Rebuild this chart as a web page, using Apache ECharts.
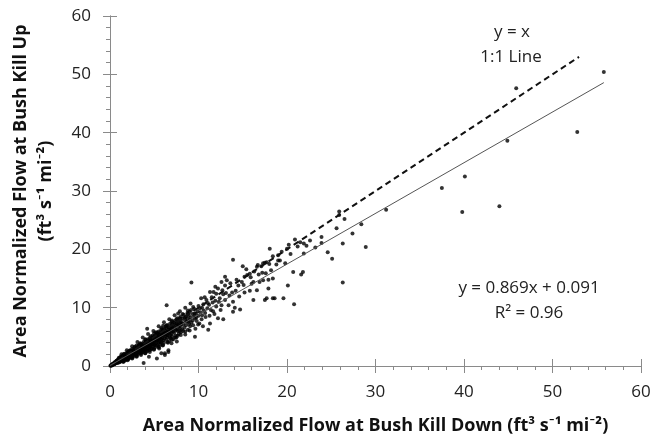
<!DOCTYPE html>
<html>
<head>
<meta charset="utf-8">
<script src="https://cdn.jsdelivr.net/npm/echarts@6/dist/echarts.min.js"></script>
<style>
html,body{margin:0;padding:0;background:#fff}
#chart{width:654px;height:440px}
</style>
</head>
<body>
<div id="chart"></div>
<script>
// flow pairs [Bush Kill Down, Bush Kill Up], ft3 s-1 mi-2
const lowFlows = [
  [0.05,0.04],[0.1,0.12],[0.15,0.1],[0.2,0.22],[0.25,0.18],[0.3,0.35],[0.3,0.2],[0.35,0.28],[0.4,0.45],[0.4,0.3],
  [0.45,0.38],[0.5,0.6],[0.5,0.4],[0.55,0.5],[0.6,0.7],[0.6,0.45],[0.65,0.55],[0.7,0.8],[0.7,0.5],[0.75,0.65],
  [0.8,0.95],[0.8,0.6],[0.85,0.75],[0.9,1.1],[0.9,0.7],[0.95,0.85],[1.0,1.2],[1.0,0.8],[1.0,0.6],
  [1.1,1.0],[1.1,1.4],[1.15,0.75],[1.2,1.1],[1.2,1.6],[1.25,0.9],[1.3,1.2],[1.3,1.5],[1.35,0.85],[1.4,1.3],
  [1.4,1.8],[1.45,1.0],[1.5,1.35],[1.5,1.7],[1.55,1.1],[1.6,1.45],[1.6,2.0],[1.65,1.2],[1.7,1.55],[1.7,0.95],
  [1.75,1.8],[1.8,1.6],[1.8,1.3],[1.85,2.2],[1.9,1.7],[1.9,1.4],[1.95,1.1],[2.0,1.8],[2.0,2.4],[2.0,1.5],
  [2.1,1.9],[2.1,1.3],[2.15,2.5],[2.2,2.0],[2.2,1.6],[2.25,2.2],[2.3,1.8],[2.3,2.7],[2.35,1.4],[2.4,2.1],
  [2.4,2.4],[2.45,1.9],[2.5,2.3],[2.5,2.9],[2.5,1.6],[2.55,2.1],[2.6,2.5],[2.6,1.9],[2.65,2.8],[2.7,2.3],
  [2.7,1.7],[2.75,2.6],[2.8,2.2],[2.8,3.2],[2.85,2.0],[2.9,2.6],[2.9,2.9],[2.95,1.8],[3.0,2.5],[3.0,3.0],
  [3.0,2.2],[3.0,3.5],
  [3.1,2.7],[3.1,2.0],[3.15,3.3],[3.2,2.8],[3.2,2.4],[3.25,3.0],[3.3,2.6],[3.3,3.6],[3.35,2.2],[3.4,2.9],
  [3.4,3.2],[3.45,2.5],[3.5,3.0],[3.5,3.8],[3.5,2.1],[3.55,2.8],[3.6,3.3],[3.6,2.6],[3.65,3.6],[3.7,3.1],
  [3.7,2.4],[3.75,3.4],[3.8,2.9],[3.8,4.1],[3.85,2.6],[3.9,3.4],[3.9,3.7],[3.95,2.2],[4.0,3.3],[4.0,3.9],
  [4.0,2.8],[4.0,4.5]
];
const extraLowFlows = [
  [0.2,0.1],[0.35,0.4],[0.5,0.3],[0.6,0.55],[0.75,0.9],[0.85,0.5],[0.95,1.0],[1.05,0.7],[1.15,1.25],[1.25,1.45],
  [1.35,1.1],[1.45,1.6],[1.55,0.8],[1.65,1.7],[1.75,1.3],[1.85,1.5],[1.95,2.0],[2.05,1.2],[2.15,1.75],[2.25,2.5],
  [2.35,2.0],[2.45,2.6],[2.55,1.4],[2.65,2.2],[2.75,2.0],[2.85,2.7],[2.95,2.4],[3.05,1.7],[3.15,2.6],[3.25,3.5],
  [3.35,3.0],[3.45,3.7],[3.55,2.3],[3.65,3.0],[3.75,2.7],[3.85,3.8],[3.95,3.1],[4.05,4.1],[4.15,3.3],[4.25,2.6],
  [4.35,4.4],[4.45,3.6],[4.55,4.1],[4.65,2.9],[4.75,3.8],[4.85,4.9],[4.95,4.0],[5.05,4.7],[5.15,3.6],[5.25,4.4],
  [5.35,5.5],[5.45,4.6],[5.55,3.0],[5.65,4.8],[5.75,4.0],[5.85,5.6],[5.95,4.8],[6.05,5.8],[6.15,4.7],[6.25,5.4],
  [6.35,6.5],[6.45,5.3],[6.55,4.0],[6.65,5.9],[6.75,4.9],[6.85,6.4],[6.95,5.5],[7.05,6.7],[7.15,5.9],[7.25,7.4],
  [7.35,4.9],[7.45,6.2],[7.55,7.3],[7.65,5.2],[7.75,6.7],[7.85,6.0],[7.95,8.0],[8.05,7.2],[8.25,6.0],[8.45,8.3],
  [8.65,7.6],[8.8,8.9],[8.95,7.2],[9.15,9.6],[9.35,7.8],[9.55,9.0],[9.75,8.3],[9.95,7.1],[10.15,9.9],[10.35,8.0],
  [10.55,10.6],[10.75,9.1],[11.05,10.8],[11.25,8.6],[11.5,11.8],[11.65,9.4]
];
const edgeFlows = [
  [1.0,1.4],[1.3,2.0],[1.6,2.1],[1.9,2.7],[2.2,2.6],[2.5,3.4],[2.8,3.3],[3.1,4.1],[3.4,3.9],[3.7,4.9],
  [4.0,4.6],[4.2,6.4],[4.3,5.5],[4.6,5.1],[4.9,6.0],[5.2,5.8],[5.5,6.8],[5.8,6.5],[6.1,7.5],[6.4,7.0],
  [6.7,8.0],[7.0,7.6],[7.3,8.7],[7.6,8.2],[7.9,9.4],[8.2,8.9],[8.5,10.0],[8.8,9.5],[9.1,10.7],[9.4,10.1],
  [1.5,0.7],[2.0,1.0],[2.5,1.3],[3.0,1.6],[3.5,1.9],[4.0,2.2],[4.5,2.4],[5.0,2.9],[5.5,3.2],[6.0,3.6],
  [6.5,4.1],[7.0,4.5],[7.5,4.9],[8.0,5.3],[8.5,5.9],[9.0,6.1],[3.8,0.5],[4.4,1.6],[5.8,2.2],[6.6,2.4]
];
const midFlows = [
  [4.1,3.6],[4.1,2.5],[4.15,4.2],[4.2,3.7],[4.2,3.0],[4.25,4.0],[4.3,3.4],[4.3,4.6],[4.35,2.9],[4.4,3.8],
  [4.4,4.2],[4.45,3.2],[4.5,3.9],[4.5,4.8],[4.5,2.7],[4.55,3.6],[4.6,4.3],[4.6,3.3],[4.65,4.6],[4.7,4.0],
  [4.7,3.0],[4.75,4.4],[4.8,3.7],[4.8,5.2],[4.85,3.4],[4.9,4.3],[4.9,4.8],[4.95,2.8],[5.0,4.2],[5.0,5.0],
  [5.0,3.6],[5.0,5.6],
  [5.1,4.5],[5.1,3.2],[5.15,5.3],[5.2,4.6],[5.2,3.9],[5.25,5.0],[5.3,4.3],[5.3,5.7],[5.3,1.3],[5.35,3.6],
  [5.4,4.8],[5.4,5.2],[5.45,4.0],[5.5,4.9],[5.5,5.9],[5.5,3.4],[5.55,4.5],[5.6,5.4],[5.6,4.1],[5.65,5.8],
  [5.7,5.0],[5.7,3.7],[5.75,5.5],[5.8,4.6],[5.8,6.3],[5.85,4.2],[5.9,5.3],[5.9,5.9],[5.95,3.5],[6.0,5.2],
  [6.0,6.2],[6.0,4.4],[6.0,6.9],
  [6.1,5.5],[6.1,4.0],[6.15,6.4],[6.2,5.6],[6.2,2.2],[6.2,1.9],[6.25,6.0],[6.3,5.1],[6.3,6.8],[6.35,4.5],
  [6.4,5.8],[6.4,10.4],[6.45,4.9],[6.5,5.9],[6.5,7.0],[6.55,5.3],[6.6,6.3],[6.6,2.7],[6.65,6.6],[6.7,5.7],
  [6.7,4.3],[6.75,6.5],[6.8,5.4],[6.8,7.3],[6.85,4.8],[6.9,6.1],[6.9,6.8],[6.95,3.9],[7.0,6.0],[7.0,7.2],
  [7.0,5.1],[7.0,7.8],
  [7.1,6.4],[7.15,4.6],[7.2,7.1],[7.25,5.7],[7.3,6.6],[7.35,7.7],[7.4,5.2],[7.45,6.9],[7.5,6.2],[7.5,8.0],
  [7.55,4.2],[7.6,7.1],[7.65,6.0],[7.7,7.6],[7.7,9.0],[7.75,5.5],[7.8,7.0],[7.85,8.2],[7.9,6.4],[7.95,7.4],
  [8.0,6.9],[8.0,8.5],[8.0,5.8],
  [8.1,7.5],[8.15,6.3],[8.2,8.1],[8.3,7.2],[8.35,8.8],[8.4,6.6],[8.5,7.8],[8.5,5.4],[8.55,8.4],[8.6,7.0],
  [8.7,8.2],[8.75,9.1],[8.8,6.2],[8.85,7.6],[8.9,8.6],[9.0,7.9],[9.0,9.3],[9.05,6.8]
];
const highFlows = [
  [9.1,8.3],[9.2,14.3],[9.2,7.4],[9.3,8.9],[9.4,7.0],[9.5,8.5],[9.5,9.8],[9.6,5.0],[9.6,8.2],[9.65,6.4],
  [9.7,9.0],[9.8,7.7],[9.9,9.4],[10.0,8.6],[10.0,10.3],[10.1,7.3],[10.2,9.2],[10.3,11.6],[10.4,8.7],[10.4,10.0],
  [10.5,6.8],[10.6,9.5],[10.7,11.8],[10.8,8.4],[10.9,11.3],[11.0,9.9],[11.1,6.2],[11.2,10.5],[11.3,7.3],[11.3,12.7],
  [11.4,9.6],[11.6,10.9],[11.7,12.7],[11.8,8.9],[11.9,11.2],[11.9,13.6],
  [12.0,12.4],[12.0,10.2],[12.2,13.3],[12.2,8.2],[12.4,11.6],[12.5,9.6],[12.6,14.4],[12.6,10.4],[12.8,8.0],[12.8,12.3],
  [13.0,15.3],[13.0,13.8],[13.0,11.3],[13.2,14.7],[13.4,10.4],[13.5,12.1],[13.9,18.2],[13.9,11.0],[13.9,9.3],[14.1,10.0],
  [14.2,12.9],[14.5,13.8],[14.7,9.7],[14.9,14.4],[15.0,17.1],[15.2,15.3],[15.2,12.6],[15.5,15.6],[15.8,15.8],[15.8,12.9],
  [16.0,14.1],[16.2,14.4],[16.2,11.3],
  [12.3,11.0],[12.7,13.0],[13.1,12.5],[13.6,14.2],[13.8,12.6],[14.3,14.8],[14.6,11.9],[15.1,13.9],[15.4,16.6],[15.9,15.2],
  [16.3,16.2],[16.8,15.7],[17.2,16.0],[17.6,15.9],[18.0,17.5],[18.8,17.4],[19.4,19.6],[19.8,17.6],[20.4,19.2],[21.2,20.5],
  [22.6,21.5],[23.2,20.3],
  [16.6,17.0],[16.6,13.0],[16.7,17.3],[16.9,14.4],[17.1,17.1],[17.3,17.6],[17.3,14.7],[17.5,17.7],[17.5,11.3],[17.7,17.8],
  [17.7,11.6],[17.9,14.8],[17.9,13.3],[18.05,20.1],[18.2,16.4],[18.4,18.8],[18.4,15.0],[18.4,11.6],[18.6,11.6],[19.0,19.0],
  [19.0,18.1],[19.2,18.1],[19.6,11.6],[20.0,20.1],[20.1,13.8],[20.2,20.8],[20.7,16.1],[20.8,10.6],[20.9,21.7],[21.5,21.2],
  [21.6,15.7],[21.8,16.1],[21.9,21.0],[21.9,19.3],[22.2,20.6],
  [23.9,22.1],[23.9,21.1],[24.6,19.5],[25.1,18.4],[25.6,23.6],[25.9,26.5],[25.9,25.9],[26.3,21.0],[26.3,14.3],[26.5,25.2],
  [27.4,22.7],[28.4,24.3],[28.9,20.4],[31.2,26.8],[37.5,30.5],[39.8,26.4],[40.1,32.5],[44.0,27.4],[44.9,38.6],[45.9,47.6],
  [52.8,40.1],[55.8,50.4]
];
const oneToOneRange = [0, 53];
const fitSlope = 0.869;
const fitIntercept = 0.091;
const fitRange = [0, 55.8];
const axisTicks = [0, 10, 20, 30, 40, 50, 60];

const font = '"Open Sans", Lato, sans-serif';
const points = lowFlows.concat(extraLowFlows, edgeFlows, midFlows, highFlows);
const fitLine = fitRange.map(x => [x, fitSlope * x + fitIntercept]);
const oneToOne = oneToOneRange.map(x => [x, x]);
const unit = '(ft\u00b3 s\u207b\u00b9 mi\u207b\u00b2)';

const baseAxis = {
  type: 'value', min: axisTicks[0], max: axisTicks[axisTicks.length - 1], interval: 10,
  splitLine: { show: false },
  axisLine: { show: true, onZero: false, lineStyle: { color: '#8a8a8a', width: 1 } },
  axisTick: { show: true, length: 7, lineStyle: { color: '#8a8a8a' } },
};

const myChart = echarts.init(document.getElementById('chart'));
myChart.setOption({
  animation: false,
  backgroundColor: '#fff',
  grid: { left: 108, right: 13, top: 16, bottom: 74 },
  xAxis: [
    Object.assign({}, baseAxis, {
      position: 'bottom',
      minorTick: { show: true, splitNumber: 5, length: 4, lineStyle: { color: '#8a8a8a' } },
      axisLabel: { margin: 18, fontSize: 17, color: '#222', fontFamily: font },
      name: 'Area Normalized Flow at Bush Kill Down ' + unit,
      nameLocation: 'middle', nameGap: 51,
      nameTextStyle: { fontSize: 18, fontWeight: 'bold', color: '#111', fontFamily: font }
    }),
    Object.assign({}, baseAxis, {
      position: 'bottom',
      axisTick: { show: true, inside: true, length: 7, lineStyle: { color: '#8a8a8a' } },
      axisLabel: { show: false }
    })
  ],
  yAxis: [
    Object.assign({}, baseAxis, {
      position: 'left',
      minorTick: { show: true, splitNumber: 5, length: 4, lineStyle: { color: '#8a8a8a' } },
      axisLabel: { margin: 19, fontSize: 17, color: '#222', fontFamily: font },
      name: 'Area Normalized Flow at Bush Kill Up\n' + unit,
      nameLocation: 'middle', nameGap: 52, nameRotate: 90,
      nameTextStyle: { fontSize: 18, fontWeight: 'bold', color: '#111', fontFamily: font, lineHeight: 25, align: 'center' }
    }),
    Object.assign({}, baseAxis, {
      position: 'left',
      axisTick: { show: true, inside: true, length: 7, lineStyle: { color: '#8a8a8a' } },
      axisLabel: { show: false }
    })
  ],
  graphic: [
    { type: 'text', x: 512, y: 32, style: { text: 'y = x', font: '17px ' + font, fill: '#222', textAlign: 'center', textVerticalAlign: 'middle' } },
    { type: 'text', x: 511, y: 57, style: { text: '1:1 Line', font: '17px ' + font, fill: '#222', textAlign: 'center', textVerticalAlign: 'middle' } },
    { type: 'text', x: 529, y: 288, style: { text: 'y = 0.869x + 0.091', font: '17px ' + font, fill: '#222', textAlign: 'center', textVerticalAlign: 'middle' } },
    { type: 'text', x: 529, y: 313, style: { text: 'R\u00b2 = 0.96', font: '17px ' + font, fill: '#222', textAlign: 'center', textVerticalAlign: 'middle' } }
  ],
  series: [
    {
      type: 'line', data: oneToOne, symbol: 'none', silent: true,
      lineStyle: { color: '#111', width: 2, type: [6, 4] }
    },
    {
      type: 'line', data: fitLine, symbol: 'none', silent: true,
      lineStyle: { color: '#555', width: 1 }
    },
    {
      type: 'scatter', data: points, symbolSize: 4,
      itemStyle: { color: '#000' }
    }
  ]
});
</script>
</body>
</html>
